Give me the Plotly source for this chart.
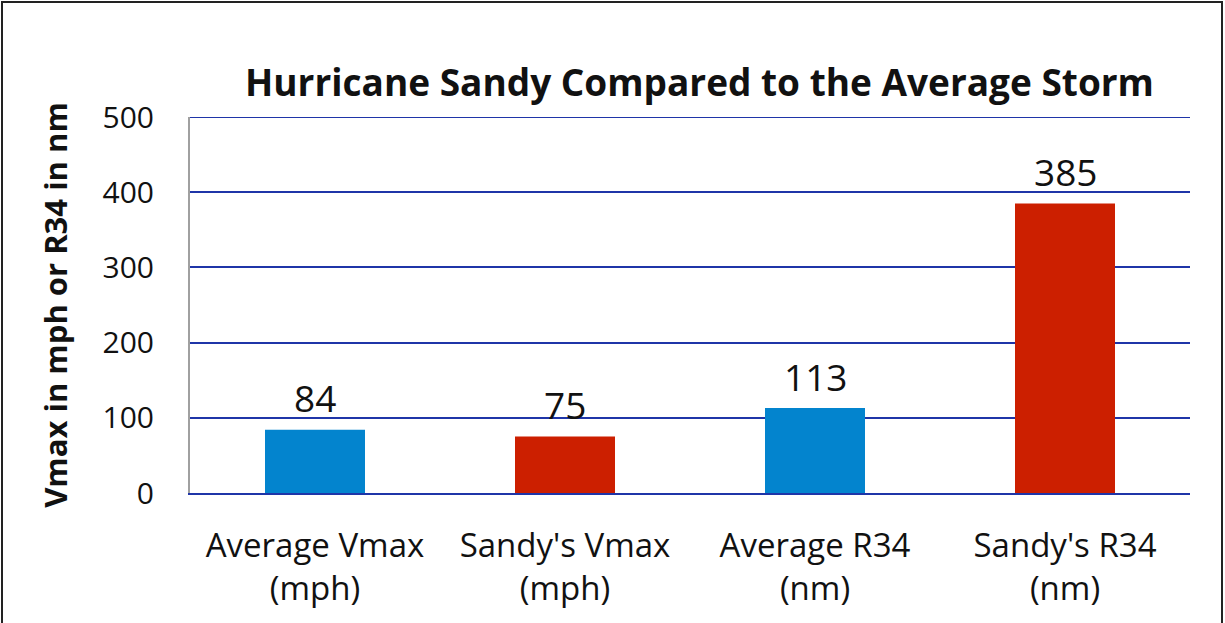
import plotly.graph_objects as go

categories = ["Average Vmax<br>(mph)", "Sandy's Vmax<br>(mph)", "Average R34<br>(nm)", "Sandy's R34<br>(nm)"]
values = [84, 75, 113, 385]
colors = ["#0384CE", "#CC1F00", "#0384CE", "#CC1F00"]
y_ticks = [0, 100, 200, 300, 400, 500]

FONT = "'Open Sans', Lato, sans-serif"

fig = go.Figure(go.Bar(
    x=categories, y=values, marker=dict(color=colors, line=dict(width=0)),
))

for c, v in zip(categories, values):
    fig.add_annotation(x=c, y=v, text=str(v), showarrow=False, yanchor="middle", yshift=32,
                       font=dict(size=37, color="#111111", family=FONT))

fig.update_layout(
    width=1225, height=623,
    margin=dict(l=190, r=35, t=117, b=130, autoexpand=False),
    paper_bgcolor="white", plot_bgcolor="white",
    bargap=0.6,
    showlegend=False,
    title=dict(text="<b>Hurricane Sandy Compared to the Average Storm</b>",
               x=0.571, xanchor="center", y=0.866, yanchor="middle",
               font=dict(size=37, color="#111111", family=FONT)),
    font=dict(family=FONT, color="#111111"),
)
fig.update_yaxes(
    range=[0, 500], tickvals=y_ticks, showgrid=True, gridcolor="#1F35A8", gridwidth=2,
    showline=True, linecolor="#A0A0A0", linewidth=2, zeroline=False,
    tickfont=dict(size=30, family=FONT), ticklabelstandoff=28, automargin=False,
    title=dict(text="<b>Vmax in mph or R34 in nm</b>", font=dict(size=31, family=FONT), standoff=26),
)
fig.update_xaxes(
    showline=True, linecolor="#1F35A8", linewidth=2, tickfont=dict(size=33, family=FONT),
    ticklabelstandoff=22, automargin=False,
)
# top gridline (plotly omits the gridline at the plot edge)
fig.add_shape(type="line", xref="paper", yref="y", x0=0, x1=1, y0=y_ticks[-1], y1=y_ticks[-1],
              line=dict(color="#1F35A8", width=2), layer="below")
fig.add_shape(type="rect", xref="paper", yref="paper",
              x0=-0.188, x1=1.032, y0=-0.35, y1=1.306,
              line=dict(color="#222222", width=2), fillcolor="rgba(0,0,0,0)", layer="below")

fig.write_html("out.html", config={"displayModeBar": False},
               post_script="document.body.style.margin='0';")
